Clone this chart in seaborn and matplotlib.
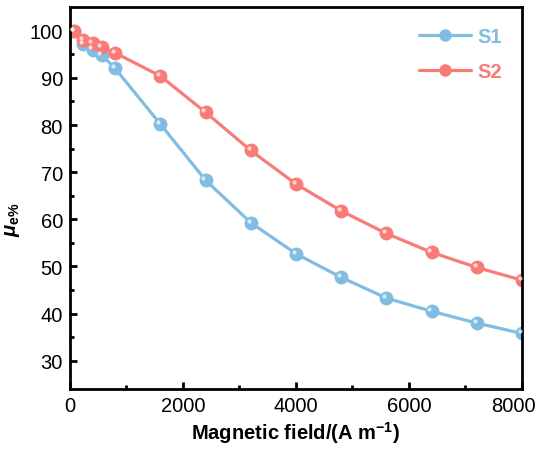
import matplotlib
matplotlib.use("Agg")
import matplotlib.pyplot as plt
import matplotlib.transforms as mtransforms
import numpy as np
import pandas as pd
import seaborn as sns

# magnetic field (A/m) and relative permeability (%)
field = [80, 240, 400, 560, 800, 1600, 2400, 3200, 4000, 4800, 5600, 6400, 7200, 8000]
s1_mu = [100, 97.2, 96.0, 94.9, 92.0, 80.2, 68.3, 59.3, 52.7, 47.7, 43.3, 40.5, 38.0, 35.8]
s2_mu = [100, 98.1, 97.3, 96.6, 95.3, 90.4, 82.7, 74.6, 67.5, 61.8, 57.0, 53.0, 49.8, 47.1]
samples = ["S1", "S2"]
colors = {"S1": "#80bde2", "S2": "#f97b77"}

df = pd.DataFrame({
    "field": field * 2,
    "mu": s1_mu + s2_mu,
    "sample": ["S1"] * len(field) + ["S2"] * len(field),
})

sns.set_style("ticks", {"axes.edgecolor": "black", "xtick.color": "black",
                        "ytick.color": "black", "text.color": "black",
                        "axes.labelcolor": "black"})
plt.rcParams["font.family"] = ["Liberation Sans", "DejaVu Sans"]
plt.rcParams["mathtext.fontset"] = "custom"
plt.rcParams["mathtext.rm"] = "Liberation Sans:bold"
plt.rcParams["mathtext.it"] = "Liberation Sans:italic:bold"
plt.rcParams["mathtext.bf"] = "Liberation Sans:bold"

fig = plt.figure(figsize=(5.42, 4.52), dpi=100)
ax = fig.add_axes([0.129, 0.137, 0.834, 0.845])

sns.lineplot(data=df, x="field", y="mu", hue="sample", hue_order=samples,
             palette=colors, marker="o", markersize=10, markeredgewidth=0,
             linewidth=2.3, ax=ax, legend=False)

# glossy highlight on markers
offset = mtransforms.ScaledTranslation(-1.5 / 72, 1.5 / 72, fig.dpi_scale_trans)
for s, ys in zip(samples, [s1_mu, s2_mu]):
    ax.plot(field, ys, linestyle="none", marker="o", markersize=3,
            color="white", alpha=0.7, markeredgewidth=0,
            transform=ax.transData + offset, zorder=5)

ax.set_xlim(0, 8000)
ax.set_ylim(24, 105)
ax.set_xticks([0, 2000, 4000, 6000, 8000])
ax.set_yticks([30, 40, 50, 60, 70, 80, 90, 100])
ax.set_xticks(np.arange(1000, 8000, 2000), minor=True)
ax.set_yticks(np.arange(35, 105, 10), minor=True)
ax.tick_params(which="major", direction="in", length=5, width=2, labelsize=14.5,
               top=False, right=False, pad=5, color="black", labelcolor="black")
ax.tick_params(which="minor", direction="in", length=3, width=2,
               top=False, right=False, color="black")
for sp in ax.spines.values():
    sp.set_linewidth(2)
    sp.set_color("black")
    sp.set_visible(True)

# keep the last x tick label inside the canvas
last = ax.get_xticklabels()[-1]
last.set_transform(last.get_transform() +
                   mtransforms.ScaledTranslation(-0.09, 0, fig.dpi_scale_trans))

ax.set_xlabel("Magnetic field/(A m$^{-1}$)", fontsize=14.5, fontweight="bold",
              labelpad=3)
ax.set_ylabel(r"$\mu_{\mathrm{e\%}}$", fontsize=14.5, fontweight="bold")
ax.yaxis.set_label_coords(-0.105, 0.445)

handles = [plt.Line2D([], [], color=colors[s], marker="o", markersize=9,
                      markeredgewidth=0, linewidth=2.3) for s in samples]
leg = ax.legend(handles, samples, loc="upper right", frameon=False,
                fontsize=14.5, handlelength=2.6, labelspacing=0.8,
                borderaxespad=0.6, handletextpad=0.3)
for t, s in zip(leg.get_texts(), samples):
    t.set_color(colors[s])
    t.set_fontweight("bold")

fig.savefig("out.png", dpi=100)
